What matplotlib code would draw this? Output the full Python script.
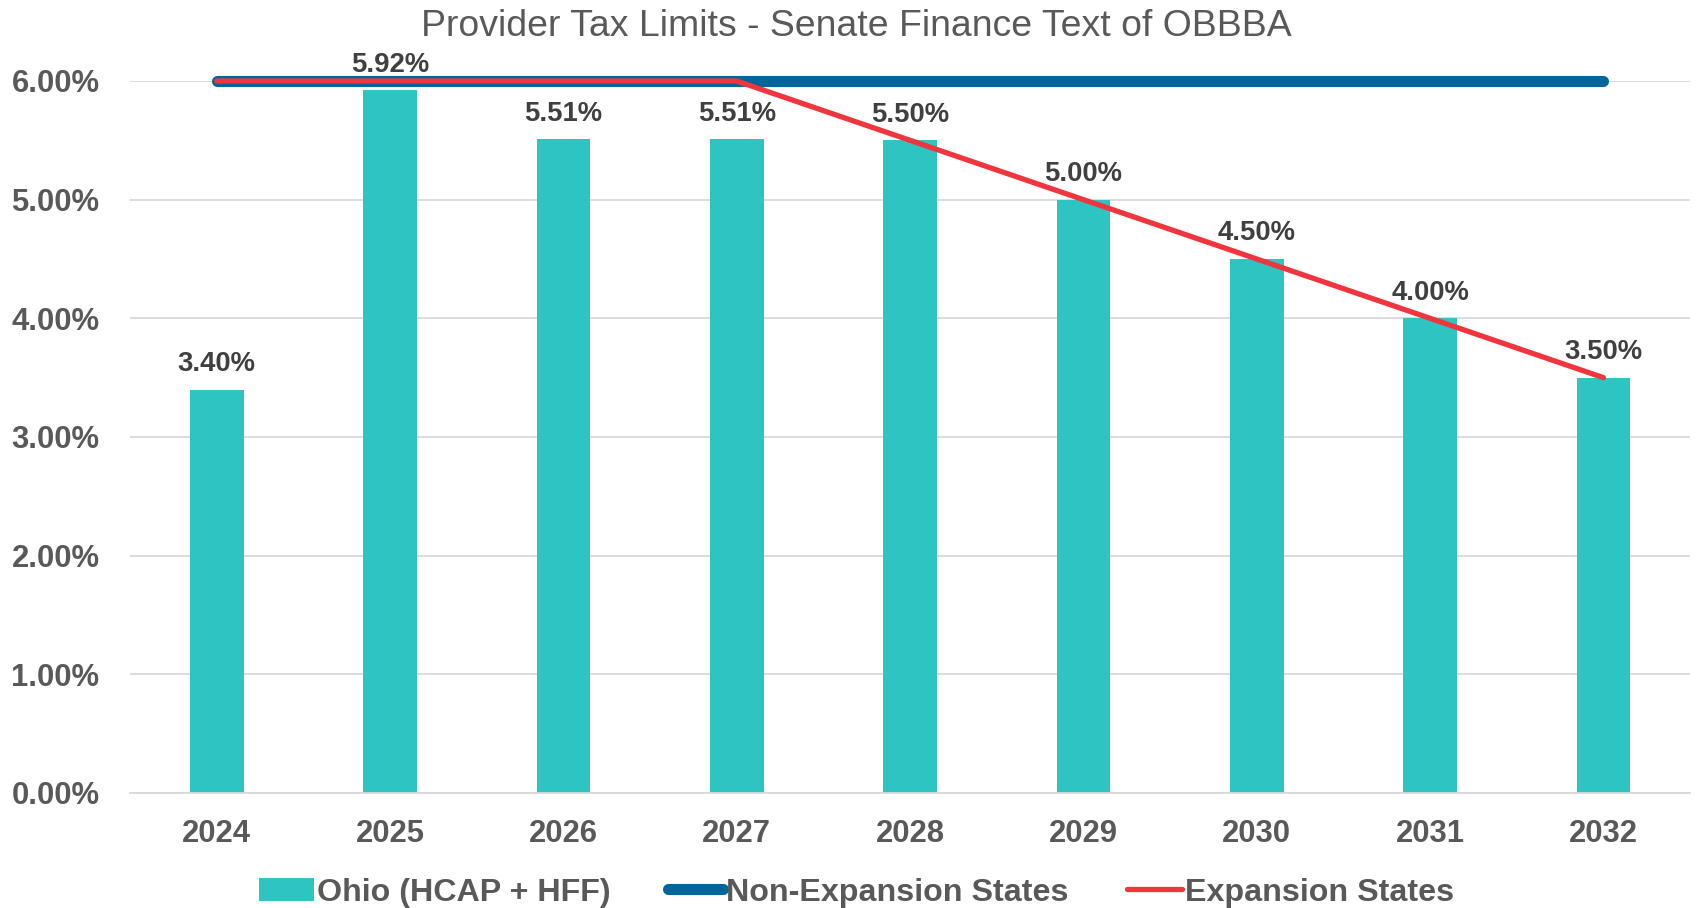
import matplotlib
matplotlib.use("Agg")
import matplotlib.pyplot as plt
from matplotlib.ticker import FuncFormatter
from matplotlib.lines import Line2D
from matplotlib.patches import Patch

years = ["2024", "2025", "2026", "2027", "2028", "2029", "2030", "2031", "2032"]
ohio = [3.40, 5.92, 5.51, 5.51, 5.50, 5.00, 4.50, 4.00, 3.50]
non_expansion = [6.0, 6.0, 6.0, 6.0, 6.0, 6.0, 6.0, 6.0, 6.0]
expansion = [6.0, 6.0, 6.0, 6.0, 5.5, 5.0, 4.5, 4.0, 3.5]
yticks = [0, 1, 2, 3, 4, 5, 6]

TEAL = "#2EC4C1"
BLUE = "#00669A"
RED = "#F0353F"

plt.rcParams['font.family'] = ['Liberation Sans', 'DejaVu Sans']

fig = plt.figure(figsize=(16.96, 9.08), dpi=100)
ax = fig.add_axes([0.0767, 0.1267, 0.9198, 0.7841])

x = list(range(len(years)))
ax.bar(x, ohio, width=0.31, color=TEAL, zorder=2)
ax.plot(x, non_expansion, color=BLUE, lw=8, solid_capstyle='round', zorder=3, clip_on=False)
ax.plot(x, expansion, color=RED, lw=3.8, solid_capstyle='round', zorder=4, clip_on=False)

for xi, v in zip(x, ohio):
    ax.annotate(f"{v:.2f}%", (xi, v), xytext=(0, 9), textcoords='offset points',
                ha='center', va='bottom', fontsize=19.8, fontweight='bold', color='#404040',
                zorder=5, annotation_clip=False)

ax.set_xlim(-0.5, 8.5)
ax.set_ylim(0, 6)
ax.set_yticks(yticks)
ax.yaxis.set_major_formatter(FuncFormatter(lambda v, p: f"{v:.2f}%"))
ax.set_xticks(x)
ax.set_xticklabels(years)
ax.grid(axis='y', color='#D9D9D9', lw=1.3, zorder=0)
ax.set_axisbelow(True)
for s in ['top', 'right', 'left']:
    ax.spines[s].set_visible(False)
ax.spines['bottom'].set_color('#D9D9D9')
ax.spines['bottom'].set_linewidth(1.3)
ax.tick_params(axis='both', length=0, labelsize=22.3, colors='#595959')
ax.tick_params(axis='x', pad=19)
ax.tick_params(axis='y', pad=22)
for lab in ax.get_xticklabels() + ax.get_yticklabels():
    lab.set_fontweight('bold')

fig.text(0.505, 0.971, "Provider Tax Limits - Senate Finance Text of OBBBA",
         ha='center', va='center', fontsize=26.9, color='#595959')

handles = [Patch(facecolor=TEAL, edgecolor='none'),
           Line2D([0], [0], color=BLUE, lw=8, solid_capstyle='round'),
           Line2D([0], [0], color=RED, lw=3.8, solid_capstyle='round')]
labels = ["Ohio (HCAP + HFF)", "Non-Expansion States", "Expansion States"]
leg = fig.legend(handles, labels, loc='center', bbox_to_anchor=(0.505, 0.017), ncol=3,
                 frameon=False, prop={'size': 23.2, 'weight': 'bold'}, handlelength=1.7,
                 handletextpad=0.1, columnspacing=1.8, handleheight=0.7)
for t in leg.get_texts():
    t.set_color('#595959')

fig.savefig("out.png", dpi=100)
